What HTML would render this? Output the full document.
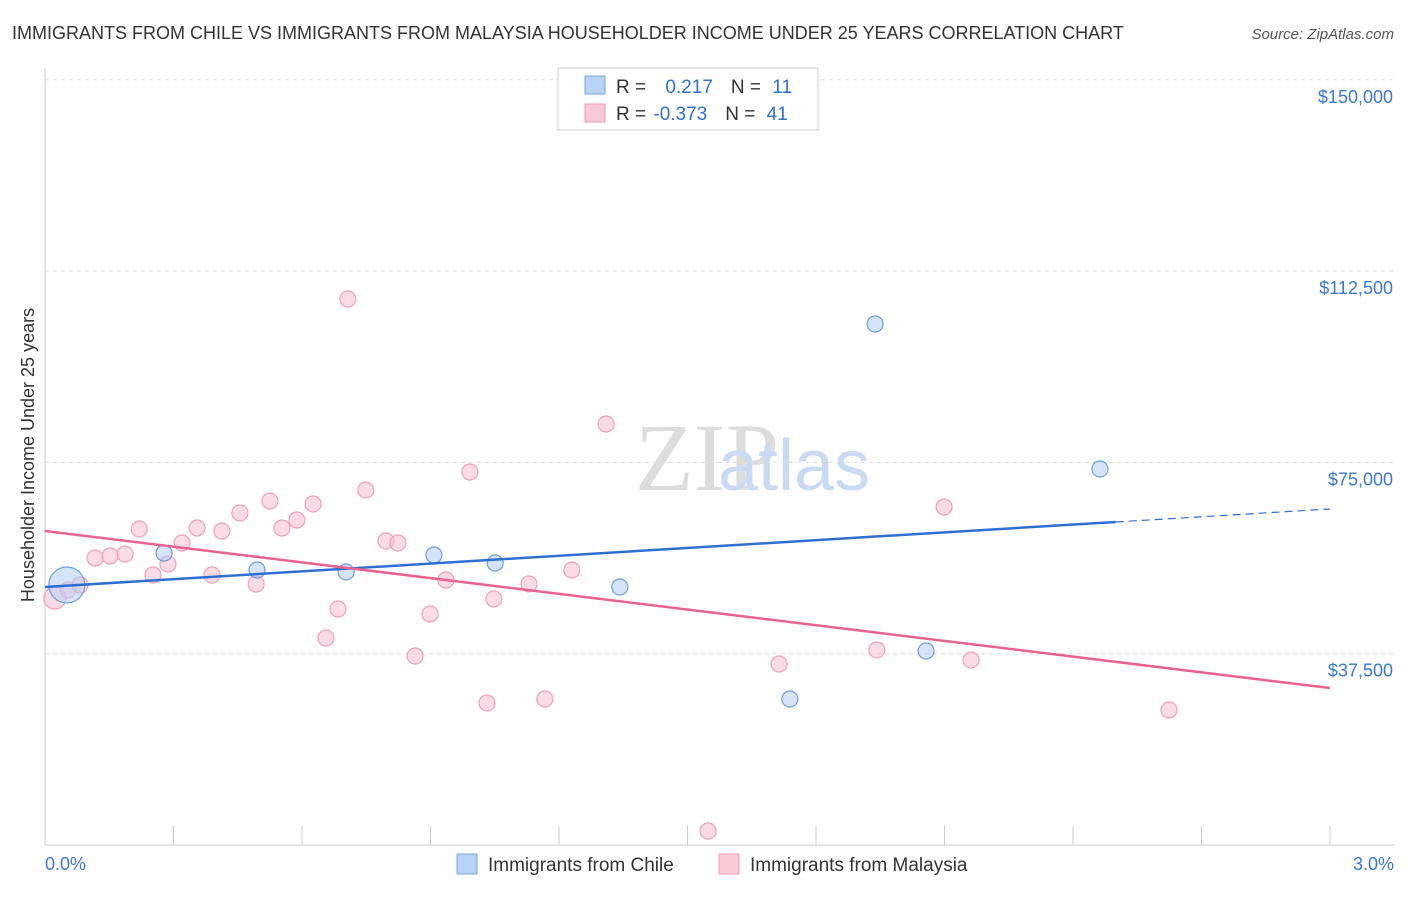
<!DOCTYPE html>
<html><head><meta charset="utf-8"><style>
body{margin:0;background:#fff;font-family:"Liberation Sans",sans-serif}
</style></head><body>
<svg id="c" width="1406" height="892" xmlns="http://www.w3.org/2000/svg" font-family="Liberation Sans, sans-serif">
<text x="12" y="39" font-size="18" fill="#333">IMMIGRANTS FROM CHILE VS IMMIGRANTS FROM MALAYSIA HOUSEHOLDER INCOME UNDER 25 YEARS CORRELATION CHART</text>
<text x="1394" y="39" font-size="15" fill="#555" font-style="italic" text-anchor="end">Source: ZipAtlas.com</text>
<text x="635" y="490" font-size="96" fill="#ddd" font-family="Liberation Serif, serif">ZIP</text>
<text x="718" y="490" font-size="72" fill="#c9daf2">atlas</text>
<text transform="translate(34,455) rotate(-90)" font-size="18" fill="#333" text-anchor="middle">Householder Income Under 25 years</text>
<g id="grid"></g><g id="marks"></g>
<g>
<rect x="558" y="68" width="260" height="62" fill="#fff" stroke="#ccc"/>
<rect x="585" y="76" width="20" height="18" fill="#b9d3f5" stroke="#7aa5e0"/>
<rect x="585" y="104" width="20" height="18" fill="#f9c9d8" stroke="#ee9ab4"/>
<text x="616" y="93" font-size="19" fill="#333">R = <tspan fill="#2f6fd1" dx="14">0.217</tspan><tspan dx="18" fill="#333">N = </tspan><tspan fill="#2f6fd1" dx="6">11</tspan></text>
<text x="616" y="120" font-size="19" fill="#333">R = <tspan fill="#2f6fd1" dx="2">-0.373</tspan><tspan dx="18" fill="#333">N = </tspan><tspan fill="#2f6fd1" dx="6">41</tspan></text>
</g>
<g>
<rect x="457" y="854" width="20" height="20" fill="#b9d3f5" stroke="#7aa5e0"/>
<text x="488" y="871" font-size="19" fill="#333">Immigrants from Chile</text>
<rect x="719" y="854" width="20" height="20" fill="#f9c9d8" stroke="#ee9ab4"/>
<text x="750" y="871" font-size="19" fill="#333">Immigrants from Malaysia</text>
</g>
<text x="45" y="870" font-size="18" fill="#3a78d4">0.0%</text>
<text x="1394" y="870" font-size="18" fill="#3a78d4" text-anchor="end">3.0%</text>
</svg>
<script>
const yTicks=[37500,75000,112500,150000];
const yTickLabels=["$37,500","$75,000","$112,500","$150,000"];
const chileX=[0.051,0.278,0.495,0.703,0.908,1.051,1.342,1.739,1.938,2.057,2.463];
const chileY=[50970,57240,53910,53520,56850,55280,50580,28620,102130,38030,73710];
const malX=[0.023,0.054,0.082,0.117,0.152,0.187,0.220,0.252,0.287,0.320,0.355,0.390,0.413,0.455,0.493,0.525,0.553,0.588,0.626,0.656,0.684,0.707,0.749,0.796,0.824,0.864,0.899,0.936,0.992,1.032,1.048,1.130,1.167,1.230,1.310,1.548,1.714,1.942,2.099,2.162,2.624];
const malY=[48420,50000,50970,56260,56650,57040,61950,52930,55080,59200,62140,52930,61550,65080,51160,67430,62140,63710,66850,40580,46260,107030,69590,59590,59200,37050,45280,51950,73120,27840,48220,51160,28620,53910,82530,2740,35480,38230,66260,36270,26460];
const chileTrend=[50580,65870];
const malTrend=[61550,30770];
const X=v=>45+v/3*1285, Y=v=>845-v/37500*191.3;
const NS="http://www.w3.org/2000/svg";
function mk(t,a,p){const e=document.createElementNS(NS,t);for(const k in a)e.setAttribute(k,a[k]);p.appendChild(e);return e;}
const g=document.getElementById('grid'),m=document.getElementById('marks');
mk('line',{x1:45,y1:68,x2:45,y2:845,stroke:'#ccc'},g);
mk('line',{x1:45,y1:845,x2:1394,y2:845,stroke:'#ccc'},g);
for(let i=1;i<=10;i++){const x=45+i*128.5;const t=mk('line',{x1:x,y1:826,x2:x,y2:845,stroke:'#ccc'},g);

}
yTicks.forEach((v,i)=>{const y=Y(v);
const l=mk('line',{x1:45,y1:y,x2:1394,y2:y,stroke:'#ddd','stroke-dasharray':'4,4'},g);


const t=mk('text',{x:1393,y:y+23,'font-size':18,fill:'#3a78d4','text-anchor':'end'},g);t.textContent=yTickLabels[i];

});
malX.forEach((v,i)=>{const c=mk('circle',{cx:X(v),cy:Y(malY[i]),r:i==0?11:8,fill:'rgba(248,190,208,0.55)',stroke:'#eea2bb','stroke-width':1.2},m);

});
chileX.forEach((v,i)=>{const c=mk('circle',{cx:X(v),cy:Y(chileY[i]),r:i==0?18:8,fill:'rgba(180,205,245,0.55)',stroke:'#6f9de0','stroke-width':1.2},m);

});
const cy=v=>chileTrend[0]+(chileTrend[1]-chileTrend[0])*v/3;
let l=mk('line',{x1:X(0),y1:Y(cy(0)),x2:X(2.5),y2:Y(cy(2.5)),stroke:'#2f6fd1','stroke-width':2.5},m);


l=mk('line',{x1:X(2.5),y1:Y(cy(2.5)),x2:X(3),y2:Y(cy(3)),stroke:'#2f6fd1','stroke-width':1.2,'stroke-dasharray':'8,5'},m);


l=mk('line',{x1:X(0),y1:Y(malTrend[0]),x2:X(3),y2:Y(malTrend[1]),stroke:'#e8638f','stroke-width':2.5},m);


</script>
</body></html>
